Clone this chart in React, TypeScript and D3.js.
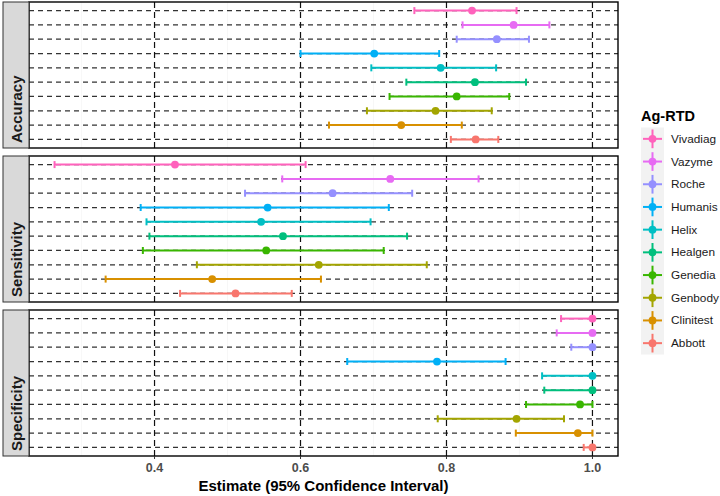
import React from "react";
import * as d3 from "d3";

const brands = ["Vivadiag", "Vazyme", "Roche", "Humanis", "Helix", "Healgen", "Genedia", "Genbody", "Clinitest", "Abbott"];
const colors = ["#FF62BC", "#E76BF3", "#9590FF", "#00B0F6", "#00BFC4", "#00BF7D", "#39B600", "#A3A500", "#D89000", "#F8766D"];
const metrics = ["Accuracy", "Sensitivity", "Specificity"];

const accuracyEst = [0.835, 0.892, 0.869, 0.701, 0.792, 0.839, 0.814, 0.785, 0.738, 0.840];
const accuracyLo = [0.756, 0.822, 0.814, 0.600, 0.697, 0.745, 0.722, 0.691, 0.639, 0.806];
const accuracyHi = [0.896, 0.941, 0.913, 0.790, 0.868, 0.909, 0.886, 0.862, 0.821, 0.871];

const sensitivityEst = [0.428, 0.723, 0.644, 0.555, 0.546, 0.576, 0.553, 0.625, 0.479, 0.511];
const sensitivityLo = [0.263, 0.575, 0.524, 0.381, 0.389, 0.393, 0.384, 0.458, 0.333, 0.435];
const sensitivityHi = [0.607, 0.844, 0.753, 0.721, 0.696, 0.746, 0.714, 0.773, 0.628, 0.588];

const specificityEst = [1.0, 1.0, 1.0, 0.787, 1.0, 1.0, 0.983, 0.896, 0.980, 1.0];
const specificityLo = [0.957, 0.951, 0.971, 0.664, 0.931, 0.934, 0.909, 0.788, 0.895, 0.988];
const specificityHi = [1.0, 1.0, 1.0, 0.881, 1.0, 1.0, 1.0, 0.961, 1.0, 1.0];

const xTicks = [0.4, 0.6, 0.8, 1.0];
const xMinor = [0.3, 0.5, 0.7, 0.9];

const est = [accuracyEst, sensitivityEst, specificityEst];
const lo = [accuracyLo, sensitivityLo, specificityLo];
const hi = [accuracyHi, sensitivityHi, specificityHi];

const W = 720, H = 496;
const panelLeft = 29, panelRight = 618;
const panelTop0 = 2, panelH = 146, panelGap = 8;
const stripW = 26;
const FONT = "'Liberation Sans', Arial, sans-serif";

export default function App() {
  const x = d3.scaleLinear().domain([0.228, 1.035]).range([panelLeft, panelRight]);
  const color = d3.scaleOrdinal<string, string>().domain(brands).range(colors);

  const legendX = 641, legendKeyW = 23, legendKeyH = 22.7, legendTop = 127.5;

  return (
    <svg width={W} height={H} style={{ position: "absolute", left: 0, top: 0, background: "#fff" }} fontFamily={FONT}>
      {metrics.map((m, mi) => {
        const top = panelTop0 + mi * (panelH + panelGap);
        const bottom = top + panelH;
        const y = d3.scalePoint<string>().domain(brands).range([top, bottom]).padding(0.6);
        return (
          <g key={m}>
            <rect x={panelLeft} y={top} width={panelRight - panelLeft} height={panelH} fill="#fff" />
            {xMinor.map((t) => (
              <line key={"mn" + t} x1={x(t)} x2={x(t)} y1={top} y2={bottom} stroke="#F2F2F2" strokeWidth={0.6} />
            ))}
            {brands.map((b) => (
              <line key={"h" + b} x1={panelLeft} x2={panelRight} y1={y(b)} y2={y(b)} stroke="#333" strokeWidth={1.2} strokeDasharray="5,4" />
            ))}
            {xTicks.map((t) => (
              <line key={"v" + t} x1={x(t)} x2={x(t)} y1={top} y2={bottom} stroke="#111" strokeWidth={1.2} strokeDasharray="6,4" />
            ))}
            {brands.map((b, i) => {
              const yy = y(b) as number;
              const c = color(b);
              return (
                <g key={"e" + b}>
                  <line x1={x(lo[mi][i])} x2={x(hi[mi][i])} y1={yy} y2={yy} stroke={c} strokeWidth={2} />
                  <line x1={x(lo[mi][i])} x2={x(lo[mi][i])} y1={yy - 3.5} y2={yy + 3.5} stroke={c} strokeWidth={2} />
                  <line x1={x(hi[mi][i])} x2={x(hi[mi][i])} y1={yy - 3.5} y2={yy + 3.5} stroke={c} strokeWidth={2} />
                  <circle cx={x(est[mi][i])} cy={yy} r={3.9} fill={c} />
                </g>
              );
            })}
            <rect x={panelLeft} y={top} width={panelRight - panelLeft} height={panelH} fill="none" stroke="#000" strokeWidth={1.4} />
            <rect x={panelLeft - stripW} y={top} width={stripW} height={panelH} fill="#D9D9D9" stroke="#333" strokeWidth={1} />
            <text
              transform={`translate(${panelLeft - stripW / 2 + 5.5},${bottom - 5}) rotate(-90)`}
              textAnchor="start"
              fontSize={15}
              fontWeight="bold"
              fill="#1A1A1A"
            >
              {m}
            </text>
          </g>
        );
      })}
      {xTicks.map((t) => {
        const bottom = panelTop0 + 3 * panelH + 2 * panelGap;
        return (
          <g key={"xt" + t}>
            <line x1={x(t)} x2={x(t)} y1={bottom} y2={bottom + 3} stroke="#333" strokeWidth={1} />
            <text x={x(t)} y={bottom + 16} textAnchor="middle" fontSize={12.5} fontWeight="bold" fill="#4D4D4D">
              {d3.format(".1f")(t)}
            </text>
          </g>
        );
      })}
      <text x={(panelLeft + panelRight) / 2} y={491} textAnchor="middle" fontSize={15} fontWeight="bold" fill="#000">
        Estimate (95% Confidence Interval)
      </text>
      <text x={legendX} y={legendTop - 7} fontSize={14.5} fontWeight="bold" fill="#000">Ag-RTD</text>
      <rect x={legendX} y={legendTop} width={legendKeyW} height={legendKeyH * brands.length} fill="#F2F2F2" />
      {brands.map((b, i) => {
        const cy = legendTop + legendKeyH * (i + 0.5);
        const cx = legendX + legendKeyW / 2;
        const c = color(b);
        return (
          <g key={"lg" + b}>
            <line x1={legendX + 2} x2={legendX + legendKeyW - 2} y1={cy} y2={cy} stroke={c} strokeWidth={2} />
            <line x1={cx} x2={cx} y1={cy - legendKeyH / 2 + 2} y2={cy + legendKeyH / 2 - 2} stroke={c} strokeWidth={2} />
            <circle cx={cx} cy={cy} r={3.9} fill={c} />
            <text x={legendX + 30} y={cy} dominantBaseline="central" fontSize={11.8} fill="#1A1A1A">{b}</text>
          </g>
        );
      })}
    </svg>
  );
}
